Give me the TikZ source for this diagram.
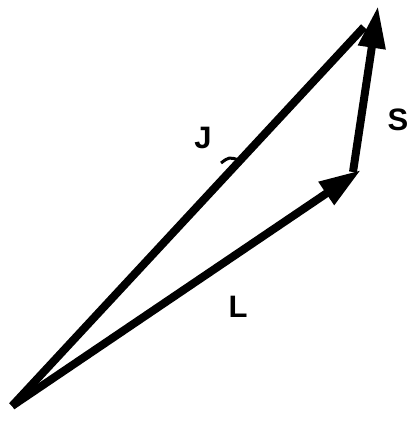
\documentclass[tikz,border=0pt]{standalone}
\usepackage{fontspec}
\setmainfont{Liberation Sans}
\usetikzlibrary{arrows.meta}
\tikzset{
  vec/.style={line width=8pt,draw=black},
  vecarr/.style={vec,-{Triangle[length=42pt,width=26pt]}},
  lab/.style={font=\bfseries\fontsize{31}{31}\selectfont,inner sep=0pt},
}
\begin{document}
\begin{tikzpicture}[x=1pt,y=-1pt]
\useasboundingbox (0,0) rectangle (413,421);
\coordinate (O) at (12,406);
\coordinate (Jend) at (364,27);
\coordinate (Lend) at (361,170);
\coordinate (Sbeg) at (353,172);
\coordinate (Send) at (378,6);
% vectors
\draw[vec] (O) -- (Jend);
\draw[vecarr] (O) -- (Lend);
\draw[vecarr] (Sbeg) -- (Send);
% small tick on J
\draw[line width=3pt] (221,163) .. controls (229,157) .. (239,160);
% labels
\node[lab] (J) at (203,138) {J};
\node[lab] (S) at (398,120) {S};
\node[lab] (L) at (238,307) {L};
\end{tikzpicture}
\end{document}
